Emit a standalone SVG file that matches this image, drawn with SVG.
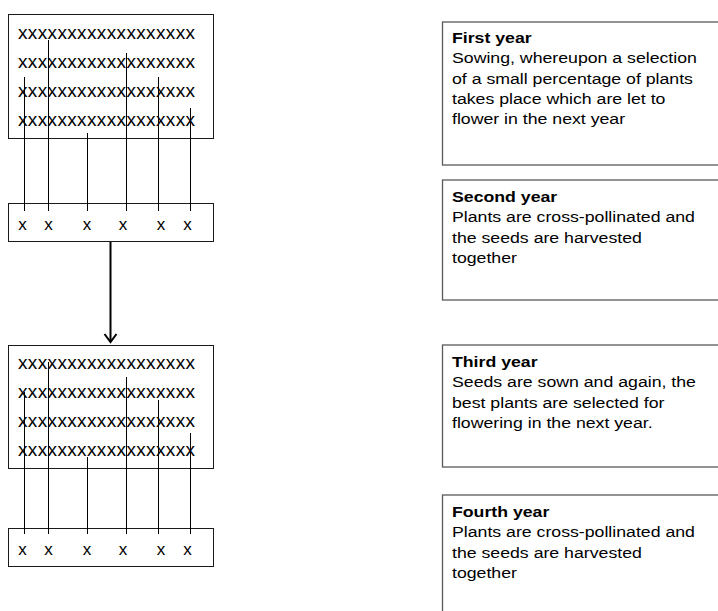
<svg xmlns="http://www.w3.org/2000/svg" width="718" height="611" viewBox="0 0 718 611">
<style>
.box{fill:#fff;stroke:#1a1a1a;stroke-width:1}
.rbox{fill:#fff;stroke:#5a5a5a;stroke-width:1.3}
.rows{font-family:"Liberation Sans",Arial,sans-serif;font-size:19px;fill:#000}
.lbl{font-family:"Liberation Sans",Arial,sans-serif;font-size:17px;fill:#000;text-anchor:middle}
.t{font-family:"Liberation Sans",Arial,sans-serif;font-size:15.4px;fill:#000}
.b{font-weight:bold}
.stem{stroke:#000;stroke-width:1;fill:none}
.arrow{stroke:#000;stroke-width:2;fill:none}
</style>
<defs>
<marker id="vhead" markerUnits="userSpaceOnUse" markerWidth="20" markerHeight="20" viewBox="-10 -10 20 20" refX="0" refY="0" orient="auto">
<path d="M-8,-6 L0,0 L-8,6" fill="none" stroke="#000" stroke-width="2"/>
</marker>
</defs>

<g id="field-year1">
<rect class="box" x="8.5" y="14.5" width="205" height="124"/>
<text class="rows" x="18" y="39" textLength="177" lengthAdjust="spacing">xxxxxxxxxxxxxxxxxx</text>
<text class="rows" x="18" y="68" textLength="177" lengthAdjust="spacing">xxxxxxxxxxxxxxxxxx</text>
<text class="rows" x="18" y="97" textLength="177" lengthAdjust="spacing">xxxxxxxxxxxxxxxxxx</text>
<text class="rows" x="18" y="126" textLength="177" lengthAdjust="spacing">xxxxxxxxxxxxxxxxxx</text>
</g>

<g id="selected-year1">
<rect class="box" x="8.5" y="203.5" width="205" height="38"/>
<text class="lbl" x="22.5" y="230">x</text>
<text class="lbl" x="48.5" y="230">x</text>
<text class="lbl" x="87" y="230">x</text>
<text class="lbl" x="123" y="230">x</text>
<text class="lbl" x="161" y="230">x</text>
<text class="lbl" x="187.5" y="230">x</text>
</g>

<g id="field-year3">
<rect class="box" x="8.5" y="345.5" width="205" height="123"/>
<text class="rows" x="18" y="369" textLength="177" lengthAdjust="spacing">xxxxxxxxxxxxxxxxxx</text>
<text class="rows" x="18" y="398" textLength="177" lengthAdjust="spacing">xxxxxxxxxxxxxxxxxx</text>
<text class="rows" x="18" y="427" textLength="177" lengthAdjust="spacing">xxxxxxxxxxxxxxxxxx</text>
<text class="rows" x="18" y="456" textLength="177" lengthAdjust="spacing">xxxxxxxxxxxxxxxxxx</text>
</g>

<g id="selected-year3">
<rect class="box" x="8.5" y="528.5" width="205" height="38"/>
<text class="lbl" x="22.5" y="555">x</text>
<text class="lbl" x="48.5" y="555">x</text>
<text class="lbl" x="87" y="555">x</text>
<text class="lbl" x="123" y="555">x</text>
<text class="lbl" x="161" y="555">x</text>
<text class="lbl" x="187.5" y="555">x</text>
</g>

<g id="connectors">
<line class="stem" x1="24.5" y1="77" x2="24.5" y2="211"/>
<line class="stem" x1="48.5" y1="40" x2="48.5" y2="211"/>
<line class="stem" x1="87.5" y1="133" x2="87.5" y2="211"/>
<line class="stem" x1="126.5" y1="53" x2="126.5" y2="211"/>
<line class="stem" x1="158.5" y1="77" x2="158.5" y2="211"/>
<line class="stem" x1="190.5" y1="108" x2="190.5" y2="211"/>
<line class="stem" x1="24.5" y1="392" x2="24.5" y2="534"/>
<line class="stem" x1="48.5" y1="362" x2="48.5" y2="534"/>
<line class="stem" x1="87.5" y1="457" x2="87.5" y2="534"/>
<line class="stem" x1="126.5" y1="377" x2="126.5" y2="534"/>
<line class="stem" x1="158.5" y1="400" x2="158.5" y2="534"/>
<line class="stem" x1="190.5" y1="433" x2="190.5" y2="534"/>
<line class="arrow" x1="110.5" y1="242" x2="110.5" y2="342" marker-end="url(#vhead)"/>
</g>

<g id="first-year">
<rect class="rbox" x="442.5" y="22" width="300" height="143"/>
<text class="t" transform="translate(452,0) scale(1.15,1)">
<tspan class="b" x="0" y="43">First year</tspan>
<tspan x="0" y="63.3">Sowing, whereupon a selection</tspan>
<tspan x="0" y="83.6">of a small percentage of plants</tspan>
<tspan x="0" y="103.9">takes place which are let to</tspan>
<tspan x="0" y="124.2">flower in the next year</tspan>
</text>
</g>

<g id="second-year">
<rect class="rbox" x="442.5" y="180" width="300" height="120"/>
<text class="t" transform="translate(452,0) scale(1.15,1)">
<tspan class="b" x="0" y="202">Second year</tspan>
<tspan x="0" y="222.3">Plants are cross-pollinated and</tspan>
<tspan x="0" y="242.6">the seeds are harvested</tspan>
<tspan x="0" y="262.9">together</tspan>
</text>
</g>

<g id="third-year">
<rect class="rbox" x="442.5" y="345" width="300" height="122"/>
<text class="t" transform="translate(452,0) scale(1.15,1)">
<tspan class="b" x="0" y="367">Third year</tspan>
<tspan x="0" y="387.3">Seeds are sown and again, the</tspan>
<tspan x="0" y="407.6">best plants are selected for</tspan>
<tspan x="0" y="427.9">flowering in the next year.</tspan>
</text>
</g>

<g id="fourth-year">
<rect class="rbox" x="442.5" y="495" width="300" height="150"/>
<text class="t" transform="translate(452,0) scale(1.15,1)">
<tspan class="b" x="0" y="517">Fourth year</tspan>
<tspan x="0" y="537.3">Plants are cross-pollinated and</tspan>
<tspan x="0" y="557.6">the seeds are harvested</tspan>
<tspan x="0" y="577.9">together</tspan>
</text>
</g>
</svg>
